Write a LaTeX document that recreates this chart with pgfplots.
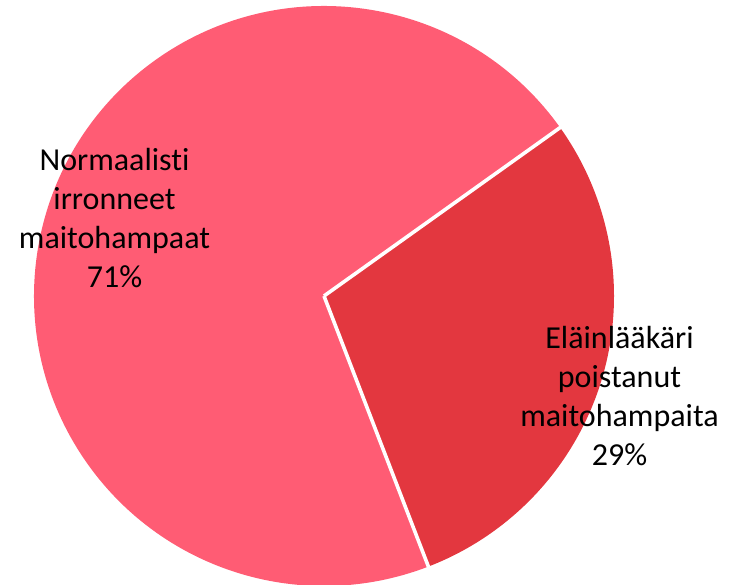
\documentclass[border=0pt]{standalone}
\usepackage{pgfplots}
\usepackage{pgfplotstable}
\pgfplotsset{compat=1.18}
\usepackage{fontspec}
\setmainfont{Carlito}[Ligatures=NoCommon]
\definecolor{pinkslice}{HTML}{FF5C74}
\definecolor{redslice}{HTML}{E3373F}
\pgfplotstableread{
label value
Normaalisti 71
Elainlaakari 29
}\piedata
\pgfplotstablegetelem{0}{value}\of\piedata \let\va\pgfplotsretval
\pgfplotstablegetelem{1}{value}\of\piedata \let\vb\pgfplotsretval
\pgfmathsetmacro\startA{35.5}
\pgfmathsetmacro\endA{\startA+\va/(\va+\vb)*360}
\pgfmathsetmacro\endB{\endA+\vb/(\va+\vb)*360}
\begin{document}
\begin{tikzpicture}
\begin{axis}[
  x=0.5pt, y=0.5pt,
  xmin=0, xmax=731, ymin=0, ymax=584,
  hide axis, clip=false,
  scale only axis,
]
\fill[pinkslice] (axis cs:324,288) -- ++(\startA:145pt) arc[start angle=\startA, end angle=\endA, radius=145pt] -- cycle;
\fill[redslice] (axis cs:324,288) -- ++(\endA:145pt) arc[start angle=\endA, end angle=\endB, radius=145pt] -- cycle;
\draw[white, line width=1.8pt] (axis cs:324,288) -- ++(\startA:146pt);
\draw[white, line width=1.8pt] (axis cs:324,288) -- ++(\endA:146pt);
\node[align=center, font=\fontsize{16}{19.5}\selectfont, text=black] at (axis cs:114.5,365.5) {Normaalisti\\irronneet\\maitohampaat\\71\%};
\node[align=center, font=\fontsize{16}{19.5}\selectfont, text=black] at (axis cs:619.5,188) {Eläinlääkäri\\poistanut\\maitohampaita\\29\%};
\end{axis}
\pgfresetboundingbox
\path[use as bounding box] (current axis.south west) rectangle (current axis.north east);
\end{tikzpicture}
\end{document}
